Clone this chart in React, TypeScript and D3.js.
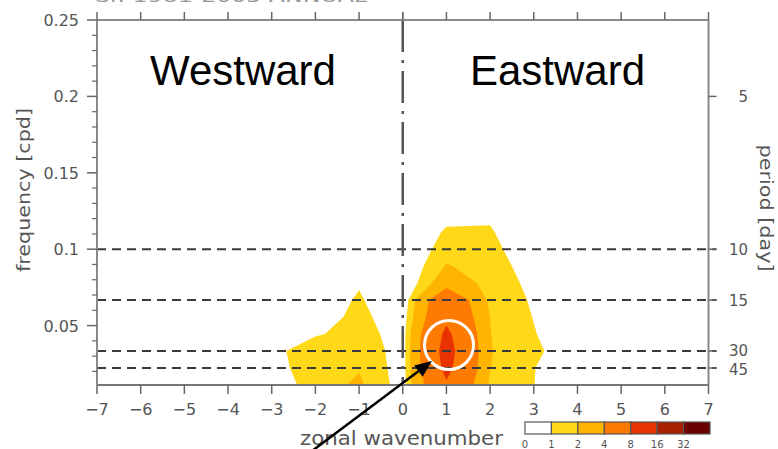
import React from 'react';
import * as d3 from 'd3';

const wavenumbers = [-7, -6, -5, -4, -3, -2, -1, 0, 1, 2, 3, 4, 5, 6, 7];
const frequencies = [1 / 90, 2 / 90, 3 / 90, 4 / 90, 5 / 90, 6 / 90, 7 / 90, 8 / 90, 9 / 90, 10 / 90, 11 / 90, 12 / 90, 13 / 90];
// rows: frequency index (low -> high), columns: wavenumber -7..7
const power = [
  [0, 0, 0, 0, 0.3, 1.5, 2.2, 0.5, 7.6, 1.75, 1.02, 0, 0, 0, 0],
  [0, 0, 0, 0, 0.5, 1.7, 1.93, 0.5, 9.0, 2.02, 1.04, 0, 0, 0, 0],
  [0, 0, 0, 0, 0.6, 1.8, 1.75, 0.5, 9.5, 2.05, 1.32, 0, 0, 0, 0],
  [0, 0, 0, 0, 0.2, 0.87, 1.46, 0.5, 8.8, 2.03, 1.075, 0, 0, 0, 0],
  [0, 0, 0, 0, 0, 0.54, 1.26, 0.4, 7.2, 1.99, 0.96, 0, 0, 0, 0],
  [0, 0, 0, 0, 0, 0.42, 1.11, 0.2, 6.5, 1.66, 0.88, 0, 0, 0, 0],
  [0, 0, 0, 0, 0, 0.2, 0.92, 0, 3.0, 1.57, 0.74, 0, 0, 0, 0],
  [0, 0, 0, 0, 0, 0, 0.3, 0, 2.1, 1.45, 0.55, 0, 0, 0, 0],
  [0, 0, 0, 0, 0, 0, 0, 0, 1.5, 1.35, 0.18, 0, 0, 0, 0],
  [0, 0, 0, 0, 0, 0, 0, 0, 1.14, 1.12, 0, 0, 0, 0, 0],
  [0, 0, 0, 0, 0, 0, 0, 0, 0.71, 0.83, 0, 0, 0, 0, 0],
  [0, 0, 0, 0, 0, 0, 0, 0, 0.2, 0.3, 0, 0, 0, 0, 0],
  [0, 0, 0, 0, 0, 0, 0, 0, 0, 0, 0, 0, 0, 0, 0],
];
const contourLevels = [1, 2, 4, 8, 16, 32];
const levelColors = ['#FFD817', '#FFB400', '#FF7A00', '#E83200', '#A82000', '#6A0000'];
const legendLabels = ['0', '1', '2', '4', '8', '16', '32'];
const xTicks = [-7, -6, -5, -4, -3, -2, -1, 0, 1, 2, 3, 4, 5, 6, 7];
const yTicks = [0.05, 0.1, 0.15, 0.2, 0.25];
const yTickLabels = ['0.05', '0.1', '0.15', '0.2', '0.25'];
const yMinorTicks = [0.02, 0.03, 0.04, 0.06, 0.07, 0.08, 0.09, 0.11, 0.12, 0.13, 0.14, 0.16, 0.17, 0.18, 0.19, 0.21, 0.22, 0.23, 0.24];
const periodTicks = [5, 10, 15, 30, 45];
const periodLabelShift = [0, 0, 0, -1, 1.5];
const dashedPeriods = [10, 15, 30, 45];

const W = 778;
const H = 449;
const L = 97, R = 708.5, T = 20, B = 385;

export default function App() {
  const xs = d3.scaleLinear().domain([-7, 7]).range([L, R]);
  const ys = d3.scaleLinear().domain([1 / 90, 0.25]).range([B, T]);
  const nx = wavenumbers.length;
  const ny = frequencies.length;
  const kOf = d3.scaleLinear().domain([0, nx - 1]).range([wavenumbers[0], wavenumbers[nx - 1]]);
  const fOf = d3.scaleLinear().domain([0, ny - 1]).range([frequencies[0], frequencies[ny - 1]]);
  const flat: number[] = [];
  power.forEach((row) => row.forEach((v) => flat.push(v)));
  const contours = d3.contours().size([nx, ny]).thresholds(contourLevels)(flat);
  const proj = d3.geoTransform({
    point: function (x: number, y: number) {
      (this as any).stream.point(xs(kOf(x - 0.5)), ys(fOf(y - 0.5)));
    },
  });
  const path = d3.geoPath(proj as any);

  const gray = '#8a8a8a';
  const tickCol = '#666';
  const labCol = '#555';
  const font = 'DejaVu Sans, sans-serif';

  const lx0 = 525, lw = 26.43, ly = 422, lh = 12;
  const arrowTip = [432, 361];
  const arrowStart = [300, 460];
  const ang = Math.atan2(arrowTip[1] - arrowStart[1], arrowTip[0] - arrowStart[0]);
  const ah = 17, aw = 7;
  const bx = arrowTip[0] - ah * Math.cos(ang), by = arrowTip[1] - ah * Math.sin(ang);
  const head = [
    [arrowTip[0], arrowTip[1]],
    [bx + aw * Math.sin(ang), by - aw * Math.cos(ang)],
    [bx - aw * Math.sin(ang), by + aw * Math.cos(ang)],
  ];

  return (
    <svg width={W} height={H} style={{ position: 'absolute', left: 0, top: 0, background: '#fff' }}>
      <defs>
        <clipPath id="plotclip">
          <rect x={L} y={T} width={R - L} height={B - T} />
        </clipPath>
      </defs>
      <text x={95} y={1.5} fontFamily={font} fontSize={16} fill="#999" textLength={272} lengthAdjust="spacingAndGlyphs">Sr. 1981-2005 ANNUAL</text>
      <g clipPath="url(#plotclip)">
        {contours.map((c, i) => (
          <path key={i} d={path(c as any) || ''} fill={levelColors[i]} stroke="none" />
        ))}
      </g>
      {/* dashed period lines */}
      {dashedPeriods.map((p) => (
        <line key={p} x1={L} x2={R + 8} y1={ys(1 / p)} y2={ys(1 / p)} stroke="#3a3a3a" strokeWidth={2} strokeDasharray="9,6" />
      ))}
      {/* zero line */}
      <line x1={xs(0)} x2={xs(0)} y1={T} y2={B} stroke="#555" strokeWidth={2.5} strokeDasharray="32,8,3,8" />
      <line x1={xs(0)} x2={xs(0)} y1={T - 8} y2={T} stroke={tickCol} strokeWidth={1.5} />
      {/* frame */}
      <line x1={L} x2={R} y1={T} y2={T} stroke={gray} strokeWidth={2} />
      <line x1={L} x2={R} y1={B} y2={B} stroke="#777" strokeWidth={2} />
      <line x1={L} x2={L} y1={T} y2={B} stroke={gray} strokeWidth={2} />
      <line x1={R} x2={R} y1={T} y2={B} stroke={gray} strokeWidth={2} />
      {/* x ticks */}
      {xTicks.map((t) => (
        <g key={t}>
          <line x1={xs(t)} x2={xs(t)} y1={B} y2={B + 9} stroke={tickCol} strokeWidth={1.5} />
          <line x1={xs(t)} x2={xs(t)} y1={T - 8} y2={T} stroke={tickCol} strokeWidth={1.5} />
          <text x={xs(t)} y={415} textAnchor="middle" fontFamily={font} fontSize={16} fill={labCol}>
            {t < 0 ? '\u2212' + Math.abs(t) : String(t)}
          </text>
        </g>
      ))}
      {/* y ticks */}
      {yTicks.map((t, i) => (
        <g key={t}>
          <line x1={L - 10} x2={L} y1={ys(t)} y2={ys(t)} stroke={tickCol} strokeWidth={1.5} />
          <text x={79} y={ys(t) + 6} textAnchor="end" fontFamily={font} fontSize={16} fill={labCol}>
            {yTickLabels[i]}
          </text>
        </g>
      ))}
      {yMinorTicks.map((t) => (
        <line key={t} x1={L - 5} x2={L} y1={ys(t)} y2={ys(t)} stroke={tickCol} strokeWidth={1.2} />
      ))}
      {/* right period axis */}
      {periodTicks.map((p, i) => (
        <g key={p}>
          <line x1={R} x2={R + 8} y1={ys(1 / p)} y2={ys(1 / p)} stroke={tickCol} strokeWidth={1.5} />
          <text x={748} y={ys(1 / p) + 5.5 + periodLabelShift[i]} textAnchor="end" fontFamily={font} fontSize={15} fill={labCol}>
            {p}
          </text>
        </g>
      ))}
      {/* axis labels */}
      <text x={401.5} y={445} textAnchor="middle" fontFamily={font} fontSize={20} fill={labCol} textLength={203} lengthAdjust="spacingAndGlyphs">zonal wavenumber</text>
      <text transform="translate(30,190) rotate(-90)" textAnchor="middle" fontFamily={font} fontSize={18} fill={labCol} textLength={164} lengthAdjust="spacingAndGlyphs">frequency [cpd]</text>
      <text transform="translate(760,208) rotate(90)" textAnchor="middle" fontFamily={font} fontSize={18} fill={labCol} textLength={127} lengthAdjust="spacingAndGlyphs">period [day]</text>
      {/* big labels */}
      <text x={150} y={85} fontFamily="Liberation Sans, Arial, sans-serif" fontSize={42} fill="#000">Westward</text>
      <text x={470} y={85} fontFamily="Liberation Sans, Arial, sans-serif" fontSize={42} fill="#000">Eastward</text>
      {/* legend */}
      {legendLabels.map((lab, i) => (
        <g key={lab}>
          <rect x={lx0 + i * lw} y={ly} width={lw} height={lh} fill={i === 0 ? '#fff' : levelColors[i - 1]} stroke="#555" strokeWidth={1.2} />
          <text x={lx0 + i * lw} y={448} textAnchor="middle" fontFamily={font} fontSize={10} fill={labCol}>{lab}</text>
        </g>
      ))}
      {/* annotation */}
      <circle cx={449} cy={345} r={24.5} fill="none" stroke="#fff" strokeWidth={3} />
      <line x1={arrowStart[0]} y1={arrowStart[1]} x2={bx} y2={by} stroke="#000" strokeWidth={2.5} />
      <polygon points={head.map((p) => p.join(',')).join(' ')} fill="#000" />
    </svg>
  );
}
